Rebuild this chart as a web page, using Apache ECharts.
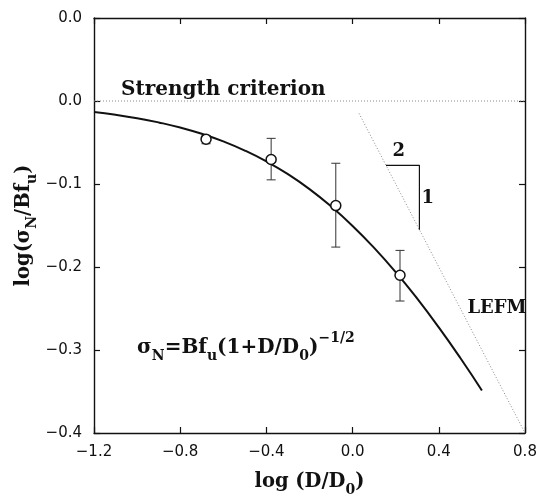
<!DOCTYPE html>
<html>
<head>
<meta charset="utf-8">
<script src="https://cdn.jsdelivr.net/npm/echarts@6/dist/echarts.min.js"></script>
<style>
  html, body { margin: 0; padding: 0; background: #fff; }
  #chart { width: 540px; height: 502px; }
</style>
</head>
<body>
<div id="chart"></div>
<script>
// Size-effect data: log of nominal strength vs log of relative size
const testX   = [-0.68, -0.378, -0.078, 0.22];
const testY   = [-0.046, -0.0705, -0.126, -0.210];
const errLow  = [-0.0515, -0.095, -0.176, -0.241];
const errHigh = [-0.042, -0.045, -0.075, -0.180];

// Size effect law curve, sampled along log(D/D0)
const lawX = [-1.2, -1.1, -1.0, -0.9, -0.8, -0.7, -0.6, -0.5, -0.4, -0.3,
              -0.2, -0.1, 0.0, 0.1, 0.2, 0.3, 0.4, 0.5, 0.6];
const lawY = [-0.0133, -0.0166, -0.0207, -0.0258, -0.0319, -0.0395, -0.0487,
              -0.0597, -0.0728, -0.0882, -0.1062, -0.1270, -0.1505, -0.1770,
              -0.2062, -0.2382, -0.2728, -0.3097, -0.3487];

// Asymptotes
const strengthX = [-1.2, 0.8];
const strengthY = [0.0, 0.0];
const lefmX = [0.03, 0.8];
const lefmY = [-0.015, -0.4];

// Slope marker (2 : 1)
const slopeX = [0.155, 0.31, 0.31];
const slopeY = [-0.0775, -0.0775, -0.155];

// Tick labels
const xTickValues = [-1.2, -0.8, -0.4, 0.0, 0.4, 0.8];
const xTickLabels = ['\u22121.2', '\u22120.8', '\u22120.4', '0.0', '0.4', '0.8'];
const yTickValues = [-0.4, -0.3, -0.2, -0.1, 0.0, 0.1];
const yTickLabels = ['\u22120.4', '\u22120.3', '\u22120.2', '\u22120.1', '0.0', '0.0'];

function tickText(values, labels) {
  return function (v) {
    for (let i = 0; i < values.length; i++) {
      if (Math.abs(values[i] - v) < 1e-6) return labels[i];
    }
    return '';
  };
}

const zip = (a, b) => a.map((v, i) => [v, b[i]]);

const SERIF = '"DejaVu Serif", "Liberation Serif", serif';
const SANS = '"DejaVu Sans", "Liberation Sans", sans-serif';
const INK = '#111';

function richSet(main, small, lh) {
  return {
    t:   { fontFamily: SERIF, fontWeight: 'bold', fontSize: main, color: INK, lineHeight: lh, verticalAlign: 'middle' },
    sub: { fontFamily: SERIF, fontWeight: 'bold', fontSize: small, color: INK, lineHeight: small, verticalAlign: 'bottom' },
    sup: { fontFamily: SERIF, fontWeight: 'bold', fontSize: small, color: INK, lineHeight: small, verticalAlign: 'top' }
  };
}

const frameAxis = {
  axisLine: { show: true, onZero: false, lineStyle: { color: INK, width: 1.4 } },
  axisTick: { show: true, inside: true, length: 6, lineStyle: { color: INK, width: 1.2 } },
  splitLine: { show: false }
};

const chart = echarts.init(document.getElementById('chart'), null, { renderer: 'canvas' });

const annotations = [
  { value: [-0.6, 0.014], text: 'Strength criterion', size: 20 },
  { value: [0.67, -0.250], text: 'LEFM', size: 18 },
  { value: [0.214, -0.061], text: '2', size: 18 },
  { value: [0.349, -0.117], text: '1', size: 18 }
];

chart.setOption({
  animation: false,
  backgroundColor: '#fff',
  grid: { left: 94, right: 15, top: 18, bottom: 57, containLabel: false },
  xAxis: [
    Object.assign({
      type: 'value', min: -1.2, max: 0.8, interval: 0.4, position: 'bottom',
      name: '{t|log (D/D}{sub|0}{t|)}', nameLocation: 'middle', nameGap: 34,
      nameMoveOverlap: false,
      nameTextStyle: { rich: richSet(19.5, 14, 30) },
      axisLabel: { margin: 12, fontFamily: SANS, fontSize: 15, color: INK,
                   formatter: tickText(xTickValues, xTickLabels) }
    }, frameAxis),
    Object.assign({
      type: 'value', min: -1.2, max: 0.8, interval: 0.4, position: 'top',
      axisLabel: { show: false }
    }, frameAxis)
  ],
  yAxis: [
    Object.assign({
      type: 'value', min: -0.4, max: 0.1, interval: 0.1, position: 'left',
      name: '{t|log(\u03c3}{sub|N}{t|/Bf}{sub|u}{t|)}', nameLocation: 'middle', nameGap: 55,
      nameRotate: 90, nameMoveOverlap: false,
      nameTextStyle: { rich: richSet(19.5, 14, 30) },
      axisLabel: { margin: 12, fontFamily: SANS, fontSize: 15, color: INK,
                   formatter: tickText(yTickValues, yTickLabels) }
    }, frameAxis),
    Object.assign({
      type: 'value', min: -0.4, max: 0.1, interval: 0.1, position: 'right',
      axisLabel: { show: false }
    }, frameAxis)
  ],
  series: [
    {
      name: 'Strength criterion', type: 'line', data: zip(strengthX, strengthY),
      symbol: 'none', silent: true,
      lineStyle: { color: '#888', width: 1, type: [1, 2] }
    },
    {
      name: 'LEFM', type: 'line', data: zip(lefmX, lefmY),
      symbol: 'none', silent: true,
      lineStyle: { color: '#888', width: 1, type: [1, 2] }
    },
    {
      name: 'slope', type: 'line', data: zip(slopeX, slopeY),
      symbol: 'none', silent: true,
      lineStyle: { color: INK, width: 1.2 }
    },
    {
      name: 'size effect law', type: 'line', data: zip(lawX, lawY),
      symbol: 'none', smooth: true, silent: true,
      lineStyle: { color: INK, width: 2 }
    },
    {
      name: 'error bars', type: 'custom',
      data: testX.map((x, i) => [x, errLow[i], errHigh[i]]),
      renderItem: function (params, api) {
        const x = api.value(0);
        const lo = api.coord([x, api.value(1)]);
        const hi = api.coord([x, api.value(2)]);
        const w = 4.5;
        const style = { stroke: '#333', lineWidth: 1 };
        return {
          type: 'group',
          children: [
            { type: 'line', shape: { x1: lo[0], y1: lo[1], x2: hi[0], y2: hi[1] }, style: style },
            { type: 'line', shape: { x1: lo[0] - w, y1: lo[1], x2: lo[0] + w, y2: lo[1] }, style: style },
            { type: 'line', shape: { x1: hi[0] - w, y1: hi[1], x2: hi[0] + w, y2: hi[1] }, style: style }
          ]
        };
      },
      z: 3
    },
    {
      name: 'tests', type: 'scatter', data: zip(testX, testY),
      symbol: 'circle', symbolSize: 10,
      itemStyle: { color: '#fff', borderColor: INK, borderWidth: 1.5, opacity: 1 },
      z: 4
    },
    {
      name: 'labels', type: 'scatter', symbolSize: 0, silent: true,
      itemStyle: { opacity: 1 },
      data: annotations.map(a => ({ value: a.value, name: a.text, label: { fontSize: a.size } })),
      label: {
        show: true, position: 'inside', formatter: p => p.name,
        fontFamily: SERIF, fontWeight: 'bold', fontSize: 18, color: INK
      },
      z: 5
    },
    {
      name: 'formula', type: 'scatter', symbolSize: 0, silent: true,
      itemStyle: { opacity: 1 },
      data: [{ value: [-1.0, -0.297] }],
      label: {
        show: true, position: 'inside', align: 'left', verticalAlign: 'middle',
        formatter: '{t|\u03c3}{sub|N}{t|=Bf}{sub|u}{t|(1+D/D}{sub|0}{t|)}{sup|\u22121/2}',
        rich: richSet(20, 14, 32)
      },
      z: 5
    }
  ]
});
</script>
</body>
</html>
